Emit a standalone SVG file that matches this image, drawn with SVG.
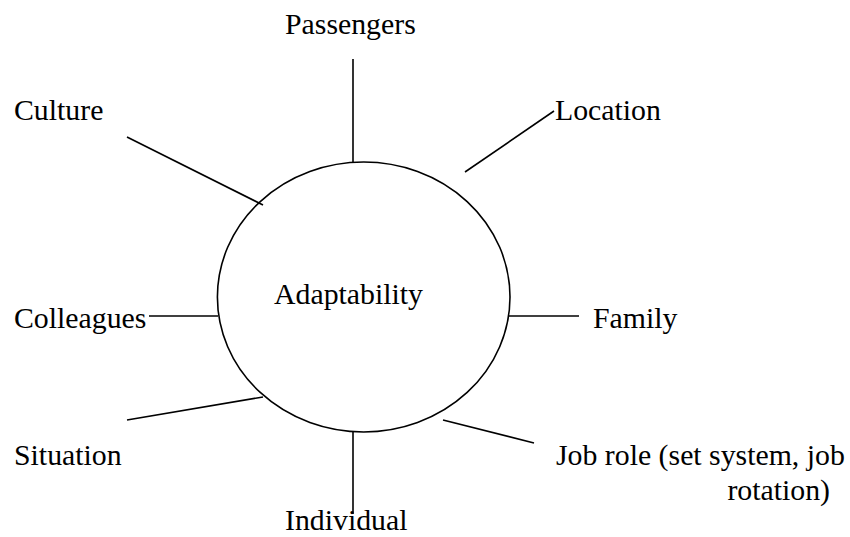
<svg xmlns="http://www.w3.org/2000/svg" width="850" height="537" viewBox="0 0 850 537">
<style>
.t{font-family:'Liberation Serif','Times New Roman',Times,serif;font-size:29.8px;fill:#000}
.c{stroke:#000;stroke-width:1.6;fill:none}
</style>
<rect width="850" height="537" fill="#fff"/>
<g id="connectors">
<line class="c" x1="353" y1="59" x2="353" y2="162"/>
<line class="c" x1="465" y1="172" x2="554" y2="111"/>
<line class="c" x1="127" y1="137" x2="263" y2="205"/>
<line class="c" x1="149" y1="316" x2="218" y2="316"/>
<line class="c" x1="508" y1="316" x2="579" y2="316"/>
<line class="c" x1="127" y1="420" x2="263" y2="397"/>
<line class="c" x1="443" y1="420" x2="534" y2="443"/>
<line class="c" x1="353" y1="432" x2="353" y2="514"/>
</g>
<g class="t">
<g id="adaptability">
<ellipse class="c" cx="363.7" cy="297" rx="146.3" ry="135"/>
<text x="274" y="304">Adaptability</text>
</g>
<g id="passengers"><text x="285" y="34">Passengers</text></g>
<g id="location"><text x="555" y="120">Location</text></g>
<g id="culture"><text x="14" y="120">Culture</text></g>
<g id="colleagues"><text x="14" y="328">Colleagues</text></g>
<g id="family"><text x="593" y="328">Family</text></g>
<g id="situation"><text x="14" y="465">Situation</text></g>
<g id="jobrole"><text x="556" y="465">Job role (set system, job</text><text x="830" y="500" text-anchor="end">rotation)</text></g>
<g id="individual"><text x="285" y="530">Individual</text></g>
</g>
</svg>
